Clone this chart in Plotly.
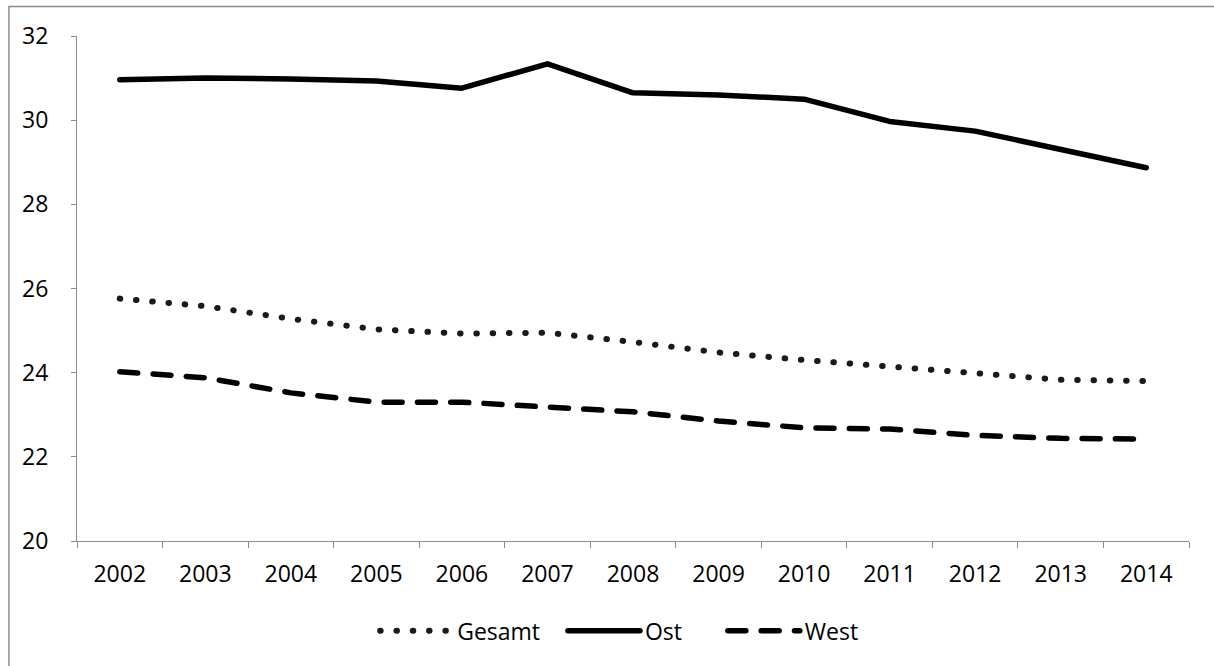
import plotly.graph_objects as go

# Jahre und Werte der drei Reihen
jahre = ["2002", "2003", "2004", "2005", "2006", "2007", "2008",
         "2009", "2010", "2011", "2012", "2013", "2014"]
gesamt = [25.76, 25.58, 25.28, 25.03, 24.93, 24.95, 24.73,
          24.48, 24.30, 24.15, 23.98, 23.83, 23.80]
ost = [30.96, 31.00, 30.98, 30.93, 30.76, 31.34, 30.65,
       30.60, 30.50, 29.97, 29.74, 29.31, 28.87]
west = [24.02, 23.88, 23.52, 23.30, 23.30, 23.20, 23.07,
        22.85, 22.69, 22.66, 22.51, 22.44, 22.42]
y_ticks = [20, 22, 24, 26, 28, 30, 32]

FONT = "Open Sans"
FONT_SIZE = 23
AXIS_GREY = "#8c8c8c"
NBSP = "\u00a0"  # Abstand zwischen den Legendeneinträgen

fig = go.Figure()
fig.add_trace(go.Scatter(x=jahre, y=gesamt, name="Gesamt" + NBSP * 3, mode="lines",
                         line=dict(color="#1a1a1a", width=6, dash="0.5px,15.8px")))
fig.add_trace(go.Scatter(x=jahre, y=ost, name="Ost" + NBSP * 6, mode="lines",
                         line=dict(color="black", width=5.5)))
fig.add_trace(go.Scatter(x=jahre, y=west, name="West", mode="lines",
                         line=dict(color="black", width=5.5, dash="18px,15.3px")))

fig.update_layout(
    width=1214, height=666,
    margin=dict(l=77, r=25, t=36, b=125),
    paper_bgcolor="white", plot_bgcolor="white",
    font=dict(family=FONT, size=FONT_SIZE, color="black"),
    showlegend=True,
    legend=dict(orientation="h", x=0.488, xanchor="center",
                y=-0.178, yanchor="middle", itemwidth=72,
                font=dict(family=FONT, size=FONT_SIZE, color="black"),
                bgcolor="rgba(0,0,0,0)"),
    xaxis=dict(type="category", range=[-0.5, 12.5],
               showline=True, linecolor=AXIS_GREY, linewidth=1,
               ticks="outside", tickson="boundaries", ticklen=6,
               tickcolor=AXIS_GREY, tickwidth=1,
               showgrid=False, zeroline=False, ticklabelstandoff=12),
    yaxis=dict(range=[20, 32], tickvals=y_ticks,
               showline=True, linecolor=AXIS_GREY, linewidth=1,
               ticks="outside", ticklen=5, tickcolor=AXIS_GREY, tickwidth=1,
               showgrid=False, zeroline=False, ticklabelstandoff=18),
)

# Rahmen um das Diagramm (links und oben sichtbar)
fig.add_shape(type="path", xref="paper", yref="paper",
              path="M -0.0612 -0.30 L -0.0612 1.0585 L 1.05 1.0585",
              line=dict(color=AXIS_GREY, width=1.5), layer="above")

# Runde Linienenden für Punkte und Striche
post = """
document.querySelectorAll('.scatterlayer path.js-line, .legendlines path').forEach(function(p){
  p.style.strokeLinecap = 'round';
  p.style.strokeLinejoin = 'round';
});
"""
fig.write_html("out.html", post_script=post)
